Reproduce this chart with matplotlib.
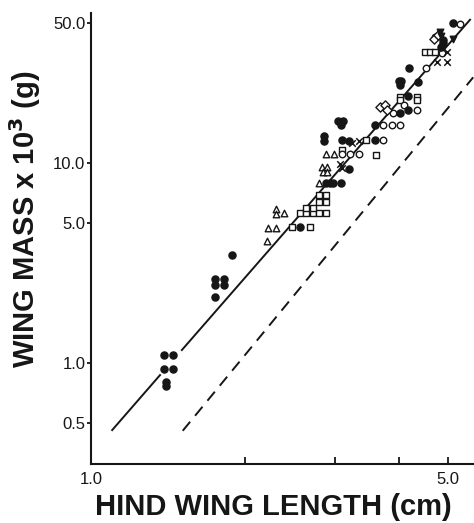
import numpy as np
import matplotlib
matplotlib.use("Agg")
import matplotlib.pyplot as plt

plt.rcParams['font.family'] = ['Liberation Sans', 'DejaVu Sans']

# data (cm, g x 10^3)
filled_x = [1.39, 1.45, 1.39, 1.45, 1.40, 1.40,
            1.75, 1.75, 1.82, 1.82, 1.75, 1.89,
            2.565,
            2.89, 2.94, 2.98, 3.09, 3.20,
            2.86, 2.86,
            3.05, 3.12, 3.08,
            3.095, 3.20, 3.595, 3.595,
            4.18, 4.02,
            4.00, 4.05, 4.02,
            4.20, 4.36, 4.18,
            5.12, 4.89, 4.85, 4.88]
filled_y = [1.10, 1.10, 0.93, 0.93, 0.80, 0.77,
            2.62, 2.45, 2.62, 2.45, 2.14, 3.46,
            4.79,
            7.9, 7.9, 7.9, 7.9, 9.28,
            13.6, 12.9,
            16.3, 16.3, 15.4,
            13.0, 12.9, 13.0, 15.5,
            18.3, 17.7,
            25.8, 25.8, 24.4,
            29.7, 25.4, 21.6,
            50.2, 39.6, 38.0, 41.0]

circle_x = [3.21, 3.34, 3.73, 3.73, 3.88, 4.02, 3.905, 4.34, 4.52, 4.71, 4.86, 5.27, 3.095, 4.10]
circle_y = [11.07, 11.07, 13.0, 15.5, 15.5, 15.5, 17.7, 18.3, 29.7, 42.7, 35.3, 49.4, 11.07, 19.5]

square_x = [2.47, 2.68, 2.565, 2.64, 2.72, 2.80, 2.89, 2.64, 2.72,
            2.79, 2.89, 2.79, 2.89,
            3.62, 3.46, 3.095,
            4.02, 4.34, 4.34, 4.02,
            4.50, 4.61, 4.71]
square_y = [4.79, 4.79, 5.63, 5.63, 5.63, 5.63, 5.63, 5.92, 5.92,
            6.9, 6.9, 6.4, 6.4,
            10.94, 13.0, 11.6,
            21.4, 21.4, 20.6, 20.6,
            35.9, 35.9, 35.9]

tri_x = [2.21, 2.22, 2.30, 2.30, 2.30, 2.39,
         2.79, 2.83, 2.90, 2.84, 2.90, 2.89, 2.99]
tri_y = [4.08, 4.74, 4.74, 5.85, 5.53, 5.59,
         7.95, 9.5, 9.5, 8.96, 8.96, 11.07, 11.07]

diamond_x = [3.68, 3.76, 3.79, 4.70, 4.78]
diamond_y = [19.0, 19.4, 18.4, 41.5, 43.5]

cross_x = [3.34, 3.07, 3.10, 4.97, 4.75, 4.97, 3.25]
cross_y = [12.9, 9.9, 9.4, 35.9, 32.0, 32.0, 12.6]

down_x = [4.82, 5.12, 4.85]
down_y = [45.2, 41.9, 43.0]

# fitted line (broken around the smallest points) and reference line
fit_lo_x = [1.10, 1.365]
fit_lo_y = [0.461, 0.869]
fit_hi_x = [1.506, 5.52]
fit_hi_y = [1.159, 52.0]
ref_x = [1.512, 5.60]
ref_y = [0.4575, 26.8]

ink = '#161616'

fig = plt.figure(figsize=(4.74, 5.23), dpi=100)
ax = fig.add_axes([0.192, 0.1128, 0.808, 0.862])

ax.plot(fit_lo_x, fit_lo_y, color=ink, lw=1.4, zorder=1)
ax.plot(fit_hi_x, fit_hi_y, color=ink, lw=1.4, zorder=1)
ax.plot(ref_x, ref_y, color=ink, lw=1.4, ls=(0, (6, 4)), zorder=1)

ms = 22
ax.scatter(square_x, square_y, s=ms, marker='s', facecolor='white', edgecolor=ink, linewidth=1.0, zorder=3)
ax.scatter(circle_x, circle_y, s=ms, marker='o', facecolor='white', edgecolor=ink, linewidth=1.0, zorder=3)
ax.scatter(tri_x, tri_y, s=ms, marker='^', facecolor='white', edgecolor=ink, linewidth=1.0, zorder=3)
ax.scatter(diamond_x, diamond_y, s=ms, marker='D', facecolor='white', edgecolor=ink, linewidth=1.0, zorder=3)
ax.scatter(cross_x, cross_y, s=ms, marker='x', color=ink, linewidth=1.1, zorder=4)
ax.scatter(down_x, down_y, s=ms, marker='v', color=ink, zorder=4)
ax.scatter(filled_x, filled_y, s=ms + 4, marker='o', color=ink, zorder=4)

ax.set_xscale('log')
ax.set_yscale('log')
ax.set_xlim(1.0, 5.62)
ax.set_ylim(0.312, 56.1)

ax.set_xticks([1, 2, 3, 4, 5])
ax.set_xticklabels(['1.0', '', '', '', '5.0'])
ax.set_yticks([0.5, 1, 5, 10, 50])
ax.set_yticklabels(['0.5', '1.0', '5.0', '10.0', '50.0'])
ax.minorticks_off()

for side in ['top', 'right']:
    ax.spines[side].set_visible(False)
for side in ['left', 'bottom']:
    ax.spines[side].set_linewidth(1.5)
    ax.spines[side].set_color(ink)

ax.tick_params(axis='x', direction='in', length=5, width=1.3, colors=ink, labelsize=12, pad=6)
ax.tick_params(axis='y', direction='out', length=3, width=1.3, colors=ink, labelsize=12, pad=1)

ax.set_xlabel('HIND WING LENGTH (cm)', fontsize=21, fontweight='bold', color=ink)
ax.set_ylabel(r'WING MASS x 10$^{\mathbf{3}}$ (g)', fontsize=21, fontweight='bold', color=ink)
ax.xaxis.set_label_coords(0.475, -0.064)
ax.yaxis.set_label_coords(-0.125, 0.543)

fig.savefig('out.png', dpi=100, facecolor='white')
